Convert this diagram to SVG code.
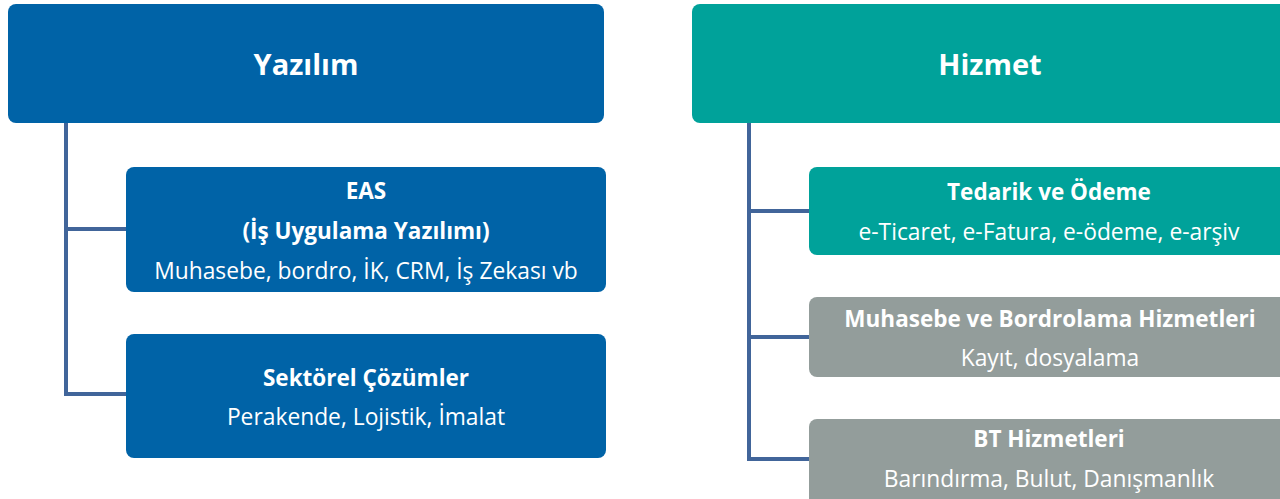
<svg xmlns="http://www.w3.org/2000/svg" width="1280" height="499" viewBox="0 0 1280 499">
<style>
.blue{fill:#0063A7}
.teal{fill:#00A29A}
.gray{fill:#939D9B}
.t{font-family:"Open Sans","Noto Sans",sans-serif;fill:#fff;text-anchor:middle}
.h{font-size:29px;font-weight:700}
.b{font-size:22.5px;font-weight:700}
.r{font-size:22.8px;font-weight:400}
.c{stroke:#41659A;stroke-width:4;fill:none}
</style>
<g id="connectors">
<path class="c" d="M66 123 V394 M64 229 H126 M64 394 H126"/>
<path class="c" d="M749 123 V459 M747 211 H809 M747 337 H809 M747 459 H809"/>
</g>
<g id="yazilim">
<rect class="blue" x="8" y="4" width="596" height="119" rx="8"/>
<text class="t h" x="306" y="75">Yazılım</text>
</g>
<g id="eas">
<rect class="blue" x="126" y="167" width="480" height="125" rx="8"/>
<text class="t b" x="366" y="199">EAS</text>
<text class="t b" x="366" y="239">(İş Uygulama Yazılımı)</text>
<text class="t r" x="366" y="279">Muhasebe, bordro, İK, CRM, İş Zekası vb</text>
</g>
<g id="sektorel">
<rect class="blue" x="126" y="334" width="480" height="124" rx="8"/>
<text class="t b" x="366" y="386">Sektörel Çözümler</text>
<text class="t r" x="366" y="425">Perakende, Lojistik, İmalat</text>
</g>
<g id="hizmet">
<rect class="teal" x="692" y="4" width="600" height="119" rx="8"/>
<text class="t h" x="990" y="75">Hizmet</text>
</g>
<g id="tedarik">
<rect class="teal" x="809" y="167" width="480" height="88" rx="8"/>
<text class="t b" x="1049" y="200">Tedarik ve Ödeme</text>
<text class="t r" x="1049" y="240">e-Ticaret, e-Fatura, e-ödeme, e-arşiv</text>
</g>
<g id="muhasebe">
<rect class="gray" x="809" y="297" width="480" height="80" rx="8"/>
<text class="t b" x="1050" y="327">Muhasebe ve Bordrolama Hizmetleri</text>
<text class="t r" x="1050" y="366">Kayıt, dosyalama</text>
</g>
<g id="bt">
<rect class="gray" x="809" y="419" width="480" height="88" rx="8"/>
<text class="t b" x="1049" y="447">BT Hizmetleri</text>
<text class="t r" x="1049" y="487">Barındırma, Bulut, Danışmanlık</text>
</g>
</svg>
